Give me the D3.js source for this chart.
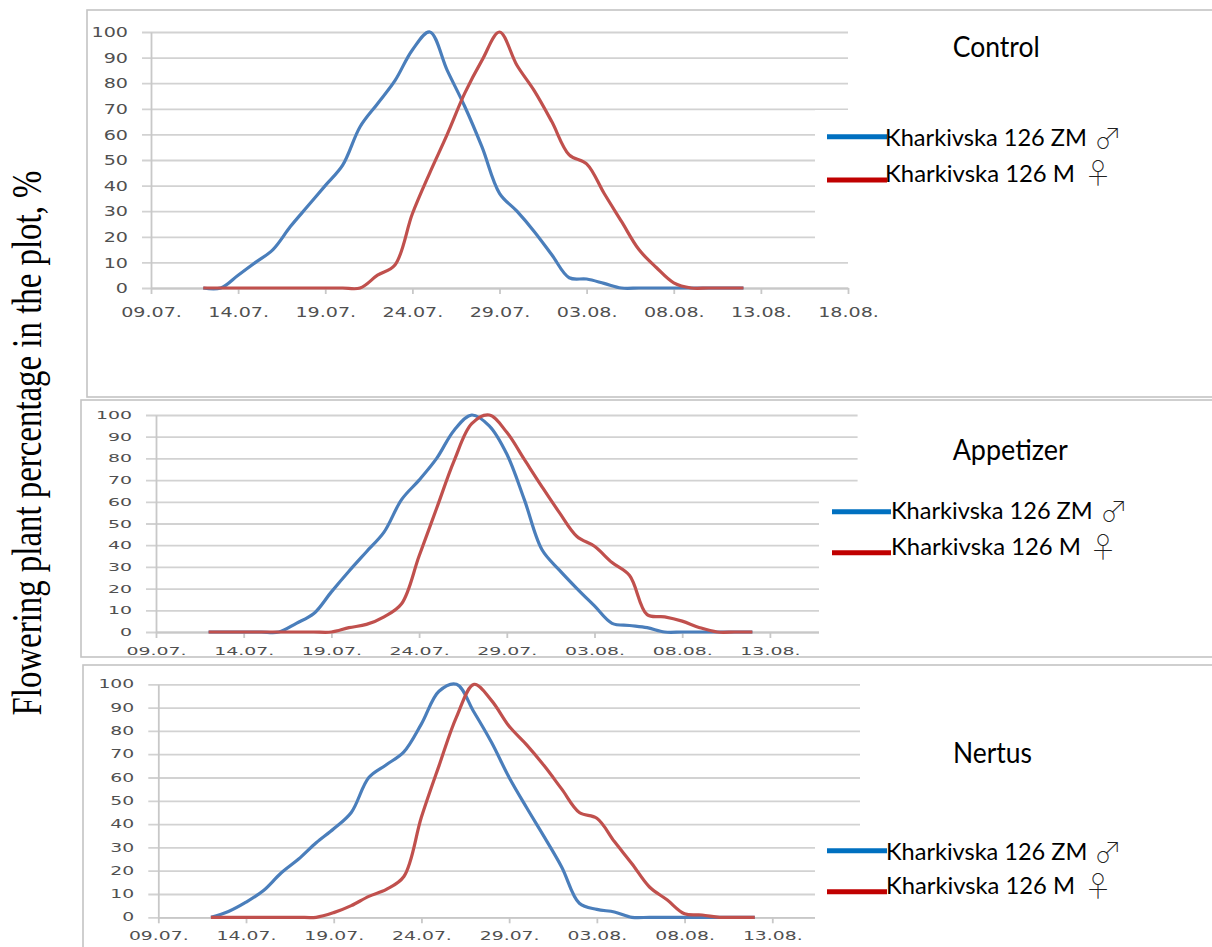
<!DOCTYPE html>
<html>
<head>
<meta charset="utf-8">
<script src="https://cdn.jsdelivr.net/npm/d3@7"></script>
<style>
  html, body { margin: 0; padding: 0; background: #ffffff; }
  svg { display: block; }
</style>
</head>
<body>
<svg id="chart" width="1212" height="947"></svg>
<script>
// ---------------- DATA ----------------
const dates = ["12.07","13.07","14.07","15.07","16.07","17.07","18.07","19.07","20.07","21.07",
  "22.07","23.07","24.07","25.07","26.07","27.07","28.07","29.07","30.07","31.07",
  "01.08","02.08","03.08","04.08","05.08","06.08","07.08","08.08","09.08","10.08","11.08","12.08"];

const xTickLabels = ["09.07.","14.07.","19.07.","24.07.","29.07.","03.08.","08.08.","13.08.","18.08."];
const yTickValues = [0,10,20,30,40,50,60,70,80,90,100];

const panelTitles = ["Control","Appetizer","Nertus"];
const seriesNames = ["Kharkivska 126 ZM","Kharkivska 126 M"];
const seriesSymbols = ["\u2642","\u2640"];

const controlZM = [0,0,5,10,15,24,32,40,48,63,72,81,93,100,85,71,55,37,30,22,13,4,3.5,1.8,0,0,0,0,0,0,0,0];
const controlM  = [0,0,0,0,0,0,0,0,0,0,5,9,29,45,60,76,89,100,87,77,65,52,48.5,37,26,15,8,2,0,0,0,0];

const appetizerZM = [0,0,0,0,0,4,8.5,18.5,28,37,46,61,70,80,93,100,95,82,61,38,28.5,20,12,4,3,2,0,0,0,0,0,0];
const appetizerM  = [0,0,0,0,0,0,0,0,2,3.5,7,13,35,57,79,96,100,92,79.5,67,55,44,39.5,32,26,8,7,5,2,0,0,0];

const nertusZM = [0,2.5,6.5,11.5,19,25,32,38,45,60,65.5,71,83,97,100,88,75,60,47,34.5,21.5,6,3.4,2.3,0,0,0,0,0,0,0,0];
const nertusM  = [0,0,0,0,0,0,0,2,5,9,12,17.5,43,65,86,100,93,82,74,65,55,45,42.5,32.5,23,13,7.5,1.5,1,0,0,0];

const xShownLabels = [9, 8, 8];   // how many x tick labels each panel prints

// ---------------- LAYOUT ----------------
const parseDay = d3.timeParse("%d.%m");
const parseTick = d3.timeParse("%d.%m.");
const dayDates = dates.map(parseDay);
const tickDates = xTickLabels.map(parseTick);

const panels = [
  { title: panelTitles[0], zm: controlZM, m: controlM,
    frame: [87, 10, 1140, 387], x0: 151, x1: 848, yTop: 32, yBot: 288, gridStart: 142,
    fs: 14.7, sx: 1.3, yPad: 23, xLab: 29, shown: xShownLabels[0],
    box: [815, 110, 400, 140], titlePos: [952.7, 57.3, 87],
    leg: { lx0: 827, lx1: 887, ly: [136.7, 180], tx: 885, ty: [145.7, 181.7], tw: [202, 190],
           sym: [[1094, 149], [1084, 184]] } },
  { title: panelTitles[1], zm: appetizerZM, m: appetizerM,
    frame: [81, 400, 1140, 257], x0: 156, x1: 857.6, yTop: 415, yBot: 632, gridStart: 146,
    fs: 11, sx: 1.72, yPad: 24, xLab: 23, shown: xShownLabels[1],
    box: [819, 490, 400, 166], titlePos: [952.7, 460, 115],
    leg: { lx0: 832, lx1: 891, ly: [511.7, 552.7], tx: 891, ty: [519.3, 555], tw: [201.7, 190],
           sym: [[1100, 522], [1089, 558]] } },
  { title: panelTitles[2], zm: nertusZM, m: nertusM,
    frame: [83, 665, 1140, 300], x0: 158.3, x1: 860, yTop: 684.3, yBot: 917.3, gridStart: 148.3,
    fs: 11.4, sx: 1.65, yPad: 24, xLab: 23, shown: xShownLabels[2],
    box: [815, 836, 400, 120], titlePos: [953, 762.7, 79],
    leg: { lx0: 827, lx1: 887, ly: [850.7, 891.7], tx: 886, ty: [860, 894], tw: [201.3, 189],
           sym: [[1094, 863], [1084, 897]] } }
];

const lineColors = ["#4a7ebb", "#c0504d"];
const legendColors = ["#0070c0", "#c00000"];

const svg = d3.select("#chart");

// y-axis title
svg.append("text")
  .attr("transform", "translate(41,443) rotate(-90)")
  .attr("text-anchor", "middle")
  .attr("font-family", "'Liberation Serif', 'Times New Roman', serif")
  .attr("font-size", 42)
  .attr("textLength", 545)
  .attr("lengthAdjust", "spacingAndGlyphs")
  .attr("fill", "#000")
  .text("Flowering plant percentage in the plot, %");

panels.forEach((p, pi) => {
  const g = svg.append("g");

  // frame
  g.append("rect")
    .attr("x", p.frame[0]).attr("y", p.frame[1])
    .attr("width", p.frame[2]).attr("height", p.frame[3])
    .attr("fill", "#fff").attr("stroke", "#c4c4c4").attr("stroke-width", 1.6);

  const x = d3.scaleTime().domain([tickDates[0], tickDates[tickDates.length - 1]]).range([p.x0, p.x1]);
  const y = d3.scaleLinear().domain([0, 100]).range([p.yBot, p.yTop]);

  // gridlines
  const grid = g.append("g").attr("transform", `translate(${p.gridStart},0)`)
    .call(d3.axisRight(y).tickValues(yTickValues).tickSize(p.x1 - p.gridStart).tickFormat(""));
  grid.select(".domain").remove();
  grid.selectAll(".tick line").attr("stroke", "#d2d2d2").attr("stroke-width", 1.8);

  // y axis with labels
  const ya = g.append("g").attr("transform", `translate(${p.x0},0)`)
    .call(d3.axisLeft(y).tickValues(yTickValues).tickSize(0).tickPadding(p.yPad));
  ya.select(".domain").attr("stroke", "#c8c8c8").attr("stroke-width", 1.8);
  ya.selectAll(".tick text")
    .attr("font-family", "'DejaVu Sans', Verdana, sans-serif")
    .attr("font-size", p.fs)
    .attr("fill", "#505050")
    .attr("transform", `scale(${p.sx},1)`)
    .attr("x", -p.yPad / p.sx);

  // x axis
  const xa = g.append("g").attr("transform", `translate(0,${p.yBot})`)
    .call(d3.axisBottom(x).tickValues(tickDates).tickSizeInner(6).tickSizeOuter(0)
      .tickFormat((d, i) => i < p.shown ? xTickLabels[i] : ""));
  xa.select(".domain").attr("stroke", "#c8c8c8").attr("stroke-width", 1.8);
  xa.selectAll(".tick line").attr("stroke", "#c8c8c8").attr("stroke-width", 1.8);
  xa.selectAll(".tick text")
    .attr("font-family", "'DejaVu Sans', Verdana, sans-serif")
    .attr("font-size", p.fs)
    .attr("fill", "#505050")
    .attr("transform", `scale(${p.sx},1)`)
    .attr("y", p.xLab).attr("dy", 0);

  // data lines
  const line = d3.line()
    .x((d, i) => x(dayDates[i]))
    .y(d => y(d))
    .curve(d3.curveCatmullRom.alpha(0.5));

  [p.zm, p.m].forEach((s, si) => {
    g.append("path")
      .datum(s)
      .attr("d", line)
      .attr("fill", "none")
      .attr("stroke", lineColors[si])
      .attr("stroke-width", 3.2)
      .attr("stroke-linejoin", "round");
  });

  // legend box (white)
  g.append("rect")
    .attr("x", p.box[0]).attr("y", p.box[1])
    .attr("width", p.box[2]).attr("height", p.box[3])
    .attr("fill", "#fff");

  // title
  g.append("text")
    .attr("x", p.titlePos[0]).attr("y", p.titlePos[1])
    .attr("font-family", "Lato, 'Open Sans', sans-serif")
    .attr("font-size", 28)
    .attr("textLength", p.titlePos[2])
    .attr("lengthAdjust", "spacingAndGlyphs")
    .attr("fill", "#000")
    .text(p.title);

  // legend
  seriesNames.forEach((nm, si) => {
    g.append("line")
      .attr("x1", p.leg.lx0).attr("x2", p.leg.lx1)
      .attr("y1", p.leg.ly[si]).attr("y2", p.leg.ly[si])
      .attr("stroke", legendColors[si]).attr("stroke-width", 5);
    g.append("text")
      .attr("x", p.leg.tx).attr("y", p.leg.ty[si])
      .attr("font-family", "Lato, 'Open Sans', sans-serif")
      .attr("font-size", 24)
      .attr("textLength", p.leg.tw[si])
      .attr("lengthAdjust", "spacingAndGlyphs")
      .attr("fill", "#000")
      .text(nm);
    g.append("text")
      .attr("x", p.leg.sym[si][0]).attr("y", p.leg.sym[si][1])
      .attr("font-family", "'Noto Sans CJK JP', 'DejaVu Sans', sans-serif")
      .attr("font-weight", 100)
      .attr("font-size", 28)
      .attr("fill", "#222")
      .text(seriesSymbols[si]);
  });
});
</script>
</body>
</html>
